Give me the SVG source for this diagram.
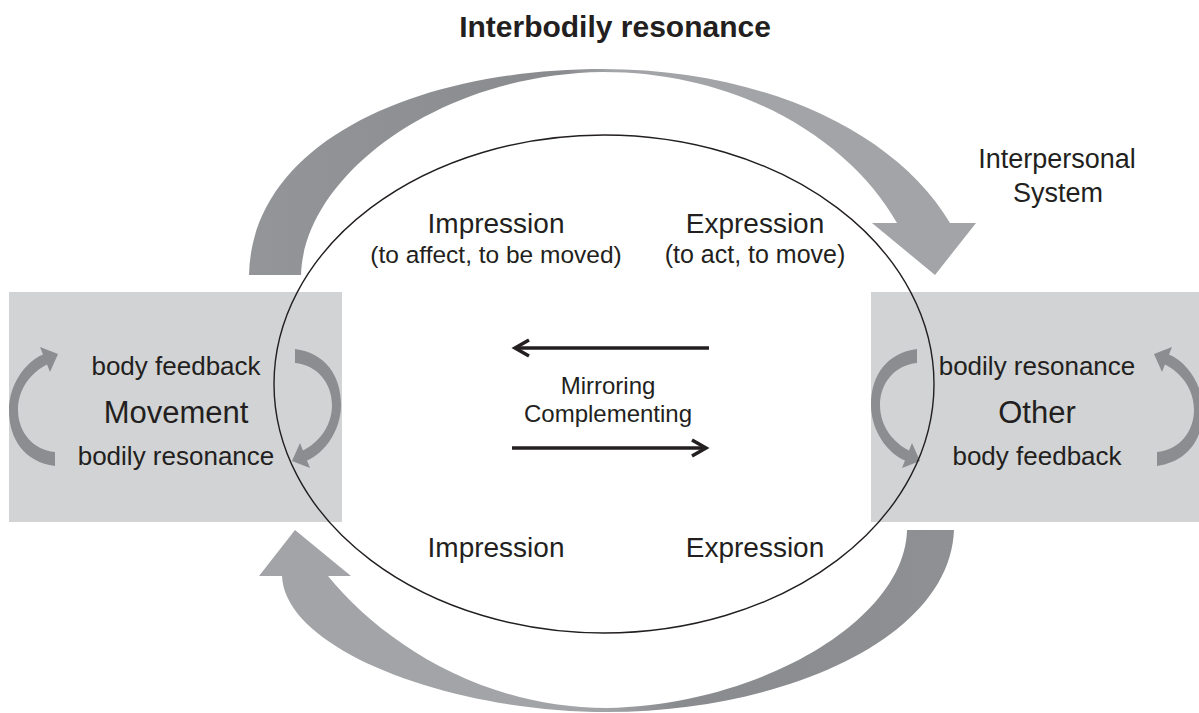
<svg xmlns="http://www.w3.org/2000/svg" width="1199" height="713" viewBox="0 0 1199 713">
  <style>
    .lbl { font-family: "Liberation Sans", Arial, Helvetica, sans-serif; fill: #231f20; text-anchor: middle; }
    .title { font-weight: bold; font-size: 30px; }
    .box { fill: #d1d3d4; }
    .loop { fill: #8c8d90; }
    .ring { fill: none; stroke: #231f20; stroke-width: 1.4; }
    .flow { fill: none; stroke: #231f20; stroke-width: 3.5; }
  </style>
  <defs>
    <linearGradient id="gradTop" gradientUnits="userSpaceOnUse" x1="249" y1="0" x2="976" y2="0">
      <stop offset="0" stop-color="#939598"/>
      <stop offset="0.43" stop-color="#8a8b8e"/>
      <stop offset="0.5" stop-color="#a3a4a7"/>
      <stop offset="1" stop-color="#a3a4a7"/>
    </linearGradient>
    <linearGradient id="gradBottom" gradientUnits="userSpaceOnUse" x1="259" y1="0" x2="954" y2="0">
      <stop offset="0" stop-color="#a3a4a7"/>
      <stop offset="0.5" stop-color="#a3a4a7"/>
      <stop offset="0.6" stop-color="#8a8b8e"/>
      <stop offset="1" stop-color="#8f9093"/>
    </linearGradient>
    <!-- curved feedback loop arrow, drawn once and reused -->
    <path id="loopArrow" d="M55,466 C25,462 9,440 9,410 C9,385 25,362 43,354.5 L40,347 L58,354 L50,372 L47,364.5 C32,372 18,388 18,410 C18,432 33,450 55,452 Z"/>
    <marker id="chev" markerUnits="userSpaceOnUse" markerWidth="24" markerHeight="24" viewBox="-18 -12 24 24" refX="0" refY="0" orient="auto" overflow="visible">
      <path d="M-14,-8 L0,0 L-14,8" fill="none" stroke="#231f20" stroke-width="3.5" stroke-linejoin="miter"/>
    </marker>
  </defs>

  <rect width="1199" height="713" fill="#ffffff"/>

  <text class="lbl title" x="615" y="37">Interbodily resonance</text>

  <!-- Movement node -->
  <g id="movement">
    <rect class="box" x="9" y="292" width="333" height="230"/>
    <use href="#loopArrow" class="loop"/>
    <use href="#loopArrow" class="loop" transform="translate(350,815) scale(-1,-1)"/>
    <text class="lbl" x="176" y="375" font-size="26">body feedback</text>
    <text class="lbl" x="176" y="423" font-size="31">Movement</text>
    <text class="lbl" x="176" y="465" font-size="26">bodily resonance</text>
  </g>

  <!-- Other node -->
  <g id="other">
    <rect class="box" x="871" y="292" width="328" height="230"/>
    <use href="#loopArrow" class="loop" transform="translate(862,815) scale(1,-1)"/>
    <use href="#loopArrow" class="loop" transform="translate(1212,0) scale(-1,1)"/>
    <text class="lbl" x="1037" y="375" font-size="26">bodily resonance</text>
    <text class="lbl" x="1037" y="423" font-size="31">Other</text>
    <text class="lbl" x="1037" y="465" font-size="26">body feedback</text>
  </g>

  <!-- Interpersonal system node -->
  <g id="system">
    <ellipse class="ring" cx="604" cy="384" rx="330" ry="249"/>
    <text class="lbl" x="496" y="233" font-size="28">Impression</text>
    <text class="lbl" x="496" y="263" font-size="24.5">(to affect, to be moved)</text>
    <text class="lbl" x="755" y="233" font-size="28">Expression</text>
    <text class="lbl" x="755" y="263" font-size="25">(to act, to move)</text>
    <text class="lbl" x="608" y="394" font-size="24">Mirroring</text>
    <text class="lbl" x="608" y="422" font-size="24">Complementing</text>
    <text class="lbl" x="496" y="557" font-size="28">Impression</text>
    <text class="lbl" x="755" y="557" font-size="28">Expression</text>
  </g>

  <g id="system-label">
    <text class="lbl" x="1057" y="168" font-size="27">Interpersonal</text>
    <text class="lbl" x="1058" y="202" font-size="27">System</text>
  </g>

  <!-- connectors -->
  <g id="connectors">
    <path id="arc-top" fill="url(#gradTop)" d="M249,275 C252,140 420,69 603,69 C760,69 895,130 950,223 L976,223 L935,275 L872,223 L897,223 C850,140 740,72 603,72 C440,74 304,175 301,275 Z"/>
    <path id="arc-bottom" fill="url(#gradBottom)" d="M954,530 C950,640 780,712 607,712 C450,712 285,650 282,576 L259,576 L295,530 L351,576 L328,576 C380,640 480,708 607,708 C760,705 905,620 907,530 Z"/>
    <line class="flow" x1="709" y1="348" x2="515" y2="348" marker-end="url(#chev)"/>
    <line class="flow" x1="512" y1="448" x2="706" y2="448" marker-end="url(#chev)"/>
  </g>
</svg>
